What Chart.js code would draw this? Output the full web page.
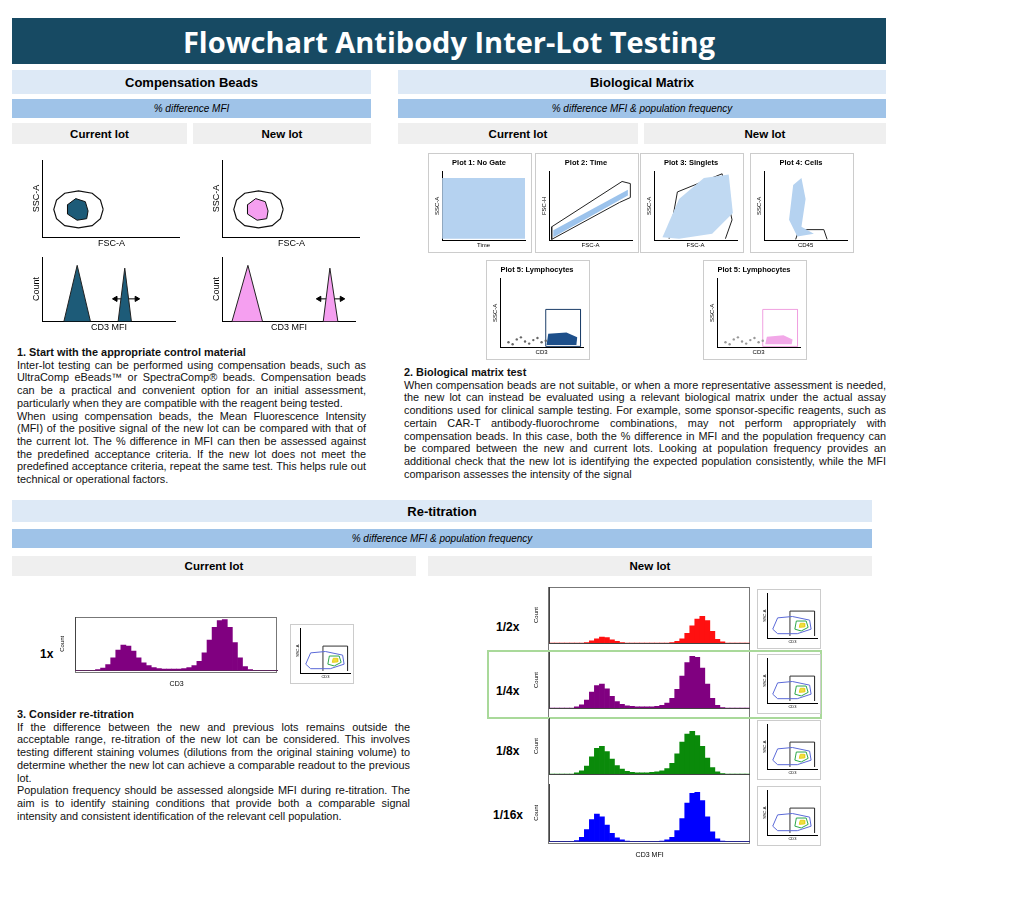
<!DOCTYPE html>
<html>
<head>
<meta charset="utf-8">
<script src="https://cdn.jsdelivr.net/npm/chart.js@4"></script>
<style>
body { margin:0; width:1024px; height:922px; background:#fff; position:relative; font-family:"Liberation Sans", Arial, sans-serif; overflow:hidden; }
.bar { position:absolute; display:flex; align-items:center; justify-content:center; color:#000; }
.title { background:#174a63; color:#fff; font-weight:bold; font-size:29px; font-family:"Open Sans", sans-serif; }
.h1 { background:#dde9f6; font-weight:bold; font-size:13px; }
.h2 { background:#9fc3e8; font-style:italic; font-size:10px; }
.h3 { background:#efefef; font-weight:bold; font-size:11.5px; }
.txt { position:absolute; font-size:10.9px; line-height:12.7px; text-align:justify; color:#111; }
.txt b { display:block; }
.lab { position:absolute; font-weight:bold; font-size:12px; }
.box { position:absolute; }
.hl { position:absolute; border:2px solid #a9d99a; }
.frm { position:absolute; border:1px solid #777; }
</style>
</head>
<body>
<div class="bar title" style="left:12px;top:18px;width:874px;height:46px">Flowchart Antibody Inter-Lot Testing</div>

<div class="bar h1" style="left:12px;top:70px;width:359px;height:24px">Compensation Beads</div>
<div class="bar h2" style="left:12px;top:99px;width:359px;height:19px">% difference MFI</div>
<div class="bar h3" style="left:12px;top:123px;width:175px;height:21px">Current lot</div>
<div class="bar h3" style="left:193px;top:123px;width:178px;height:21px">New lot</div>

<div class="bar h1" style="left:398px;top:70px;width:488px;height:24px">Biological Matrix</div>
<div class="bar h2" style="left:398px;top:99px;width:488px;height:19px">% difference MFI &amp; population frequency</div>
<div class="bar h3" style="left:398px;top:123px;width:240px;height:21px">Current lot</div>
<div class="bar h3" style="left:644px;top:123px;width:242px;height:21px">New lot</div>

<div class="bar h1" style="left:12px;top:500px;width:860px;height:22px">Re-titration</div>
<div class="bar h2" style="left:12px;top:529px;width:860px;height:19px">% difference MFI &amp; population frequency</div>
<div class="bar h3" style="left:12px;top:556px;width:404px;height:20px">Current lot</div>
<div class="bar h3" style="left:428px;top:556px;width:444px;height:20px">New lot</div>

<div class="txt" style="left:17px;top:346px;width:349px">
<b>1. Start with the appropriate control material</b>
Inter-lot testing can be performed using compensation beads, such as UltraComp eBeads™ or SpectraComp® beads. Compensation beads can be a practical and convenient option for an initial assessment, particularly when they are compatible with the reagent being tested.<br>
When using compensation beads, the Mean Fluorescence Intensity (MFI) of the positive signal of the new lot can be compared with that of the current lot. The % difference in MFI can then be assessed against the predefined acceptance criteria. If the new lot does not meet the predefined acceptance criteria, repeat the same test. This helps rule out technical or operational factors.
</div>

<div class="txt" style="left:404px;top:366px;width:482px">
<b>2. Biological matrix test</b>
When compensation beads are not suitable, or when a more representative assessment is needed, the new lot can instead be evaluated using a relevant biological matrix under the actual assay conditions used for clinical sample testing. For example, some sponsor-specific reagents, such as certain CAR-T antibody-fluorochrome combinations, may not perform appropriately with compensation beads. In this case, both the % difference in MFI and the population frequency can be compared between the new and current lots. Looking at population frequency provides an additional check that the new lot is identifying the expected population consistently, while the MFI comparison assesses the intensity of the signal
</div>

<div class="txt" style="left:17px;top:708px;width:393px">
<b>3. Consider re-titration</b>
If the difference between the new and previous lots remains outside the acceptable range, re-titration of the new lot can be considered. This involves testing different staining volumes (dilutions from the original staining volume) to determine whether the new lot can achieve a comparable readout to the previous lot.<br>
Population frequency should be assessed alongside MFI during re-titration. The aim is to identify staining conditions that provide both a comparable signal intensity and consistent identification of the relevant cell population.
</div>

<div class="lab" style="left:40px;top:647px">1x</div>
<div class="lab" style="left:496px;top:620px">1/2x</div>
<div class="lab" style="left:496px;top:684px">1/4x</div>
<div class="lab" style="left:496px;top:744px">1/8x</div>
<div class="lab" style="left:493px;top:808px">1/16x</div>
<div class="frm" style="left:548px;top:587px;width:200px;height:255px"></div>
<div class="frm" style="left:75px;top:617px;width:200px;height:54px"></div>
<div class="hl" style="left:487px;top:650px;width:331px;height:65px"></div>

<script>
// histogram bins (relative counts)
const binLabels = ['1','2','3','4','5','6','7','8','9','10','11','12','13','14','15','16','17','18','19','20',
  '21','22','23','24','25','26','27','28','29','30','31','32','33','34','35','36','37','38','39','40'];
const hist1x   = [0,0,0,0,0.02,0.05,0.12,0.25,0.4,0.5,0.48,0.38,0.25,0.15,0.1,0.06,0.04,0.03,0.03,0.03,0.03,0.04,0.06,0.1,0.18,0.35,0.6,0.85,0.98,1.0,0.85,0.55,0.25,0.08,0.02,0,0,0,0,0];
const histHalf = [0,0,0,0,0,0,0,0.01,0.04,0.08,0.11,0.1,0.06,0.03,0.01,0,0,0,0,0,0,0,0,0,0.01,0.03,0.08,0.18,0.32,0.45,0.5,0.42,0.22,0.07,0.02,0,0,0,0,0];
const histQuarter = [0,0,0,0,0,0.02,0.06,0.15,0.3,0.42,0.45,0.36,0.22,0.12,0.07,0.04,0.03,0.02,0.02,0.02,0.02,0.03,0.05,0.09,0.18,0.35,0.6,0.85,0.97,0.95,0.75,0.45,0.18,0.05,0.01,0,0,0,0,0];
const histEighth  = [0,0,0,0,0,0.02,0.06,0.15,0.32,0.48,0.52,0.42,0.28,0.16,0.09,0.05,0.03,0.02,0.02,0.02,0.03,0.04,0.06,0.1,0.2,0.38,0.6,0.75,0.8,0.72,0.52,0.3,0.12,0.04,0.01,0,0,0,0,0];
const histSixteenth = [0,0,0,0,0,0.02,0.08,0.22,0.4,0.5,0.45,0.3,0.15,0.07,0.03,0.01,0,0,0,0,0,0,0.01,0.03,0.08,0.2,0.42,0.7,0.88,0.9,0.75,0.45,0.18,0.05,0.01,0,0,0,0,0];

// compensation bead peaks (x = CD3 MFI 0-10, y = count)
const curLeftPeak  = [{x:1.6,y:0},{x:2.6,y:1},{x:3.6,y:0}];
const curRightPeak = [{x:5.7,y:0},{x:6.2,y:0.95},{x:6.7,y:0}];
const curArrow     = [{x:5.5,y:0.4},{x:7.1,y:0.4}];
const newLeftPeak  = [{x:0.7,y:0},{x:1.9,y:1},{x:3.0,y:0}];
const newRightPeak = [{x:7.6,y:0},{x:8.1,y:0.95},{x:8.7,y:0}];
const newArrow     = [{x:7.3,y:0.4},{x:9.0,y:0.4}];

// bead gates (FSC-A vs SSC-A, 0-10 by 0-5)
const beadGate = [{x:4.4,y:1.8},{x:4.2,y:2.4},{x:3.6,y:2.85},{x:2.6,y:3.0},{x:1.6,y:2.85},{x:1.0,y:2.4},{x:0.8,y:1.8},
  {x:1.0,y:1.2},{x:1.6,y:0.75},{x:2.6,y:0.6},{x:3.6,y:0.75},{x:4.2,y:1.2},{x:4.4,y:1.8}];
const beadBlob = [{x:3.3,y:1.7},{x:3.1,y:2.3},{x:2.4,y:2.5},{x:1.8,y:2.1},{x:1.8,y:1.5},{x:2.5,y:1.1},{x:3.2,y:1.2},{x:3.3,y:1.7}];

// biological matrix plots (0-10 by 0-10)
const p1Cloud = [{x:0,y:0.3},{x:0,y:9},{x:10,y:9},{x:10,y:0.3},{x:0,y:0.3}];
const p2Cloud = [{x:0.5,y:0.5},{x:9.5,y:6.5},{x:9.5,y:7.3},{x:0.5,y:1.5},{x:0.5,y:0.5}];
const p2Gate  = [{x:0.3,y:0.2},{x:8.5,y:5.5},{x:9.8,y:6.2},{x:9.8,y:8.2},{x:8.8,y:8.5},{x:0.3,y:2.0},{x:0.3,y:0.2}];
const p3Cloud = [{x:1,y:0.5},{x:3,y:6},{x:6,y:9},{x:9,y:9.5},{x:9.5,y:4},{x:7,y:1},{x:3,y:0.3},{x:1,y:0.5}];
const p3Gate  = [{x:1.8,y:0.3},{x:2.8,y:7},{x:8.2,y:9.6},{x:9.4,y:3},{x:8.6,y:0.3}];
const p4Cloud = [{x:3,y:3},{x:3.5,y:8},{x:4.5,y:9},{x:5,y:6},{x:4.5,y:2},{x:6,y:1},{x:4,y:0.6},{x:3,y:3}];
const p4Gate  = [{x:3.8,y:0.2},{x:4.2,y:1.6},{x:7.2,y:1.6},{x:7.6,y:0.2}];
const p5Cells = [{x:1,y:0.8},{x:2,y:1.2},{x:3,y:0.9},{x:4,y:1.1},{x:5,y:0.8},{x:1.5,y:0.5},{x:2.5,y:1.5},{x:3.5,y:0.6},{x:4.5,y:1.4},{x:5.5,y:1.0}];
const p5BlobCur = [{x:5.6,y:0.4},{x:5.8,y:2},{x:8,y:2.2},{x:9.3,y:1.5},{x:9.2,y:0.4},{x:5.6,y:0.4}];
const p5BlobNew = [{x:5.8,y:0.5},{x:6,y:1.6},{x:8,y:1.8},{x:9.1,y:1.2},{x:9,y:0.5},{x:5.8,y:0.5}];
const p5Gate = [{x:5.5,y:0.2},{x:5.5,y:5.5},{x:9.7,y:5.5},{x:9.7,y:0.2},{x:5.5,y:0.2}];

// re-titration contour thumbnails
const ctGate = [{x:4.5,y:0.5},{x:4.5,y:6},{x:9.5,y:6},{x:9.5,y:0.5}];
const ctOuter = [{x:1,y:2},{x:2,y:4.5},{x:5,y:4.8},{x:8.5,y:4},{x:8.8,y:2},{x:6,y:1},{x:2,y:1},{x:1,y:2}];
const ctInner = [{x:5.5,y:2},{x:5.8,y:3.8},{x:7.8,y:3.8},{x:8.2,y:2.4},{x:6.8,y:1.6},{x:5.5,y:2}];
const ctCore  = [{x:6.4,y:2.4},{x:6.6,y:3.3},{x:7.4,y:3.3},{x:7.5,y:2.5},{x:6.4,y:2.4}];

Chart.defaults.font.family = '"Liberation Sans", Arial, sans-serif';
Chart.defaults.animation = false;

// fills closed polygons (points already placed by the chart scales)
const polyFill = {
  id:'polyFill',
  beforeDatasetDraw(chart, args) {
    const ds = chart.data.datasets[args.index];
    if (!ds.polyFill) return;
    const pts = args.meta.data;
    const ctx = chart.ctx;
    ctx.save();
    ctx.beginPath();
    pts.forEach((p, i) => i ? ctx.lineTo(p.x, p.y) : ctx.moveTo(p.x, p.y));
    ctx.closePath();
    ctx.fillStyle = ds.polyFill;
    ctx.fill();
    ctx.restore();
  }
};
Chart.register(polyFill);

function mk(x, y, w, h, config, border) {
  const d = document.createElement('div');
  d.className = 'box';
  d.style.cssText = `left:${x}px;top:${y}px;width:${w}px;height:${h}px;` + (border ? 'border:1px solid #ccc;background:#fff;' : '');
  const c = document.createElement('canvas');
  d.appendChild(c);
  document.body.appendChild(d);
  config.options = Object.assign({ responsive:true, maintainAspectRatio:false,
    plugins:{ legend:{display:false}, tooltip:{enabled:false} } }, config.options || {});
  return new Chart(c, config);
}

function axis(title, min, max, size) {
  return {
    type:'linear', min:min, max:max,
    grid:{display:false, drawTicks:false},
    border:{color:'#000', width:1},
    ticks:{display:false},
    title:{display:!!title, text:title, font:{size:size || 9}, padding:1, color:'#000'}
  };
}

function poly(data, border, fill, width) {
  return { data:data, showLine:true, pointRadius:0, borderColor:border,
    polyFill:fill, fill:false, borderWidth:width || 1, tension:0 };
}

// --- compensation beads ---
function beadScatter(x, color) {
  mk(x, 160, 150, 90, { type:'scatter',
    data:{ datasets:[ poly(beadBlob, '#111', color, 1), poly(beadGate, '#111', null, 1.2) ] },
    options:{ scales:{ x:axis('FSC-A',0,10,9), y:axis('SSC-A',0,5,9) } } });
}
beadScatter(30, '#1d5b78');
beadScatter(210, '#f59ff0');

function beadHist(x, l, r, a, color) {
  mk(x, 252, 150, 82, { type:'scatter',
    data:{ datasets:[ poly(l, '#222', color, 1), poly(r, '#222', color, 1),
      { data:a, showLine:true, borderColor:'#000', borderWidth:1, pointStyle:'triangle',
        pointRadius:3, pointBackgroundColor:'#000', pointRotation:[270,90] } ] },
    options:{ scales:{ x:axis('CD3 MFI',0,10,9), y:axis('Count',0,1.15,9) } } });
}
beadHist(30, curLeftPeak, curRightPeak, curArrow, '#1d5b78');
beadHist(210, newLeftPeak, newRightPeak, newArrow, '#f59ff0');

// --- biological matrix ---
function bioPlot(x, y, title, xl, yl, sets) {
  mk(x, y, 102, 98, { type:'scatter', data:{ datasets:sets },
    options:{ layout:{padding:{left:4,right:6,top:2,bottom:2}},
      plugins:{ legend:{display:false}, tooltip:{enabled:false},
        title:{display:true, text:title, font:{size:7.5, weight:'bold'}, color:'#000', padding:{top:2,bottom:4}} },
      scales:{ x:axis(xl,0,10,6), y:axis(yl,0,10,6) } } }, true);
}
bioPlot(428, 153, 'Plot 1: No Gate', 'Time', 'SSC-A', [poly(p1Cloud, 'transparent', '#b5d2f0')]);
bioPlot(535, 153, 'Plot 2: Time', 'FSC-A', 'FSC-H', [poly(p2Cloud, 'transparent', '#9cc3ec'), poly(p2Gate, '#222')]);
bioPlot(640, 153, 'Plot 3: Singlets', 'FSC-A', 'SSC-A', [poly(p3Cloud, 'transparent', '#c0d9f2'), poly(p3Gate, '#222')]);
bioPlot(750, 153, 'Plot 4: Cells', 'CD45', 'SSC-A', [poly(p4Cloud, 'transparent', '#b5d2f0'), poly(p4Gate, '#222')]);
bioPlot(486, 260, 'Plot 5: Lymphocytes', 'CD3', 'SSC-A', [
  { data:p5Cells, pointRadius:1.2, backgroundColor:'#666', borderWidth:0 },
  poly(p5BlobCur, 'transparent', '#1d4f8a'), poly(p5Gate, '#1d3f6a')]);
bioPlot(703, 260, 'Plot 5: Lymphocytes', 'CD3', 'SSC-A', [
  { data:p5Cells, pointRadius:1.2, backgroundColor:'#999', borderWidth:0 },
  poly(p5BlobNew, 'transparent', '#f2a8e8'), poly(p5Gate, '#f0a0e0')]);

// --- re-titration ---
function hist(x, y, w, h, data, color, showX) {
  mk(x, y, w, h, { type:'bar',
    data:{ labels:binLabels, datasets:[{ data:data, backgroundColor:color, barPercentage:1, categoryPercentage:1 }] },
    options:{ scales:{
      x:{ grid:{display:false}, ticks:{display:false}, border:{color:'#444'},
          title:{display:!!showX, text:showX || '', font:{size:7}, padding:1, color:'#000'} },
      y:{ min:0, max:1.05, grid:{display:false}, ticks:{display:false}, border:{color:'#444'},
          title:{display:true, text:'Count', font:{size:6}, padding:1, color:'#000'} } } } });
}
function thumb(x, y) {
  mk(x, y, 62, 58, { type:'scatter',
    data:{ datasets:[ poly(ctOuter, '#5b6ad8'), poly(ctInner, '#2ea84a'), poly(ctCore, '#e8d020', '#f0e040'), poly(ctGate, '#333') ] },
    options:{ layout:{padding:3},
      scales:{ x:axis('CD3',0,10,4), y:axis('SSC-A',0,10,4) } } }, true);
}
hist(58, 617, 220, 72, hist1x, '#800080', 'CD3');
thumb(290, 624);

const newRows = [[587, histHalf, '#ff1010'], [652, histQuarter, '#800080'], [718, histEighth, '#0a8a0a'], [784, histSixteenth, '#0000ff']];
newRows.forEach((r, i) => {
  hist(532, r[0], 218, i === 3 ? 76 : 64, r[1], r[2], i === 3 ? 'CD3 MFI' : '');
  thumb(757, r[0] + 2);
});
</script>
</body>
</html>
